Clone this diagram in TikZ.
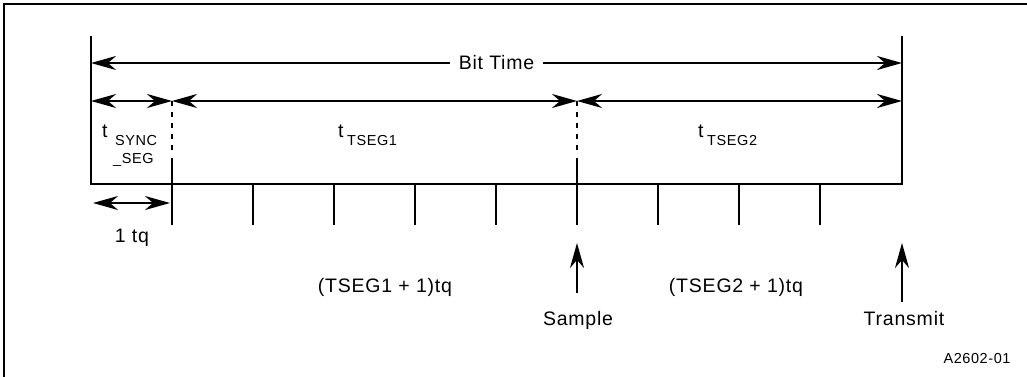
\documentclass[tikz,border=0pt]{standalone}
\usepackage{fontspec}
\setmainfont{Liberation Sans}[LetterSpace=4]
\usetikzlibrary{arrows.meta}
\begin{document}
\begin{tikzpicture}[x=1pt,y=-1pt]
\tikzstyle{frame}=[line width=1.2pt]
\tikzstyle{edge}=[line width=2pt]
\tikzstyle{arrow}=[line width=2pt,->,>={Stealth[length=25pt,width=14pt,inset=8pt]}]
\tikzstyle{twoarrow}=[arrow,<->]
\tikzstyle{dottline}=[line width=1.3pt,dash pattern=on 5pt off 6pt]
\tikzstyle{txt}=[inner sep=0pt,font=\fontsize{19.5}{21}\selectfont]
\tikzstyle{sub}=[inner sep=0pt,font=\fontsize{14.5}{16}\selectfont]

\useasboundingbox (0,0) rectangle (1027,377);

%frame
\draw [frame] (4,377) -- (4,4) -- (1027,4);

%corner points of the bit
\coordinate (TL) at (91,36);
\coordinate (BL) at (91,184);
\coordinate (BR) at (902,184);
\coordinate (TR) at (902,36);

%box
\draw [edge] (TL) -- (BL) -- (BR) -- (TR);

%time quanta ticks
\foreach \i in {0,...,8}
  \draw [edge] (172+81*\i,184) -- (172+81*\i,225);
\draw [edge] (172,158) -- (172,184);
\draw [edge] (577,158) -- (577,184);
\draw [dottline] (172,101) -- (172,150);
\draw [dottline] (577,101) -- (577,150);

%bit time
\coordinate (B0) at (91,63);
\coordinate (B1) at (902,63);
\draw [twoarrow] (B0) -- node[txt,fill=white,inner xsep=9pt,inner ysep=2pt] (bittime) {Bit Time} (B1);

%segments
\coordinate (S0) at (91,101);
\coordinate (S1) at (172,101);
\coordinate (S2) at (577,101);
\coordinate (S3) at (902,101);
\draw [twoarrow] (S0) -- (S1);
\draw [twoarrow] (S1) -- (S2);
\draw [twoarrow] (S2) -- (S3);

\node (tsync) [txt,anchor=base west] at (102,138) {t};
\node (sync) [sub,anchor=base west] at (115,146) {SYNC};
\node (seg) [sub,anchor=base west] at (113,163) {\_SEG};
\node (ttseg1) [txt,anchor=base west] at (338,138) {t};
\node (tseg1) [sub,anchor=base west] at (347,146) {TSEG1};
\node (ttseg2) [txt,anchor=base west] at (698,138) {t};
\node (tseg2) [sub,anchor=base west] at (707,146) {TSEG2};

%one quantum
\coordinate (Q0) at (93,203);
\coordinate (Q1) at (170,203);
\draw [twoarrow] (Q0) -- (Q1);
\node (onetq) [txt,anchor=base] at (132,242) {1 tq};

%lengths
\node (len1) [txt,anchor=base] at (385,292) {(TSEG1 + 1)tq};
\node (len2) [txt,anchor=base] at (736,292) {(TSEG2 + 1)tq};

%sample and transmit points
\node (sample) [txt,anchor=base] at (578,325) {Sample};
\node (transmit) [txt,anchor=base] at (904,325) {Transmit};
\coordinate (samptip) at (577,243);
\coordinate (sampfoot) at (577,293);
\coordinate (transtip) at (902,243);
\coordinate (transfoot) at (902,302);
\draw [arrow] (sampfoot) -- (samptip);
\draw [arrow] (transfoot) -- (transtip);

\node (fig) [sub,anchor=base] at (977,363) {A2602-01};
\end{tikzpicture}
\end{document}
